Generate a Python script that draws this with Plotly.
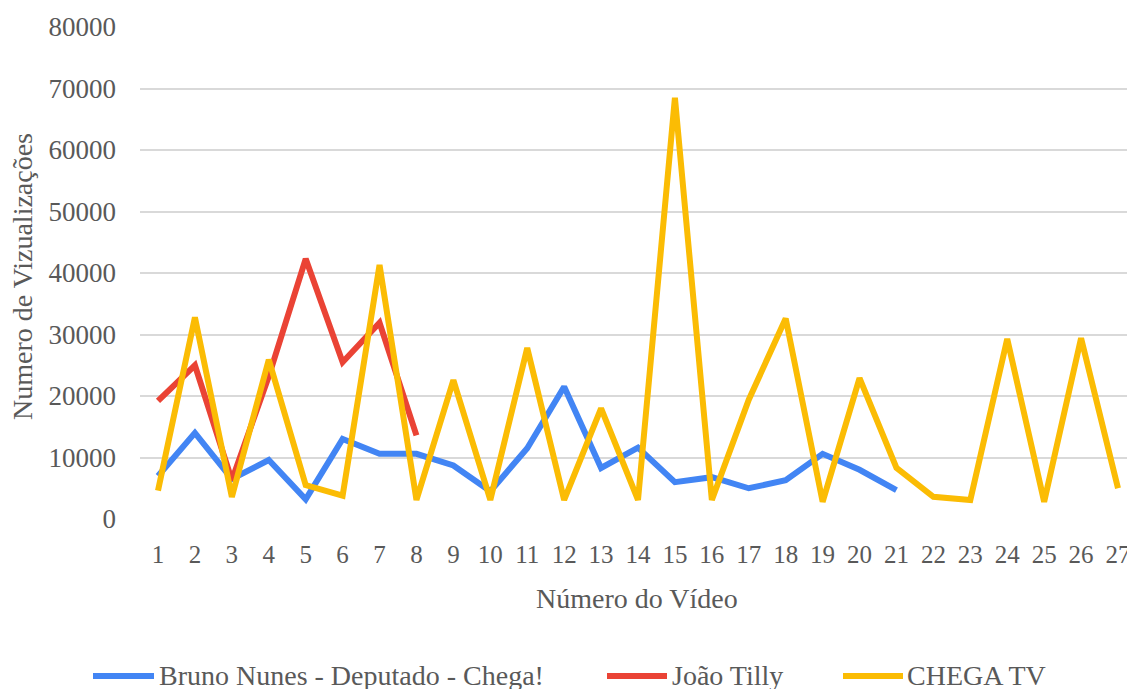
import plotly.graph_objects as go

videos = list(range(1, 28))
x_labels = [str(v) for v in videos]
y_ticks = list(range(0, 80001, 10000))
y_labels = [str(v) for v in y_ticks]

bruno_nunes = [7000, 14000, 6500, 9600, 3200, 13000, 10600, 10600, 8700, 4500,
               11500, 21500, 8300, 11600, 6000, 6800, 5000, 6300, 10600, 8000, 4700]
joao_tilly = [19200, 25000, 6300, 23200, 42300, 25500, 31900, 13600]
chega_tv = [4600, 32800, 3600, 25900, 5500, 3800, 41300, 3100, 22600, 3100,
            27800, 3100, 18000, 3100, 68500, 3100, 19400, 32600, 2800, 22900,
            8300, 3600, 3100, 29300, 2800, 29400, 5000]

series = [
    ("Bruno Nunes - Deputado - Chega!", bruno_nunes, "#4285F4"),
    ("João Tilly", joao_tilly, "#EA4335"),
    ("CHEGA TV", chega_tv, "#FBBC04"),
]

W, H = 1127, 689
L, R, T, B = 140, 0, 27, 170
PW, PH = W - L - R, H - T - B
FONT = "Liberation Serif, Times New Roman, serif"
GRAY = "#595959"

fig = go.Figure()
for name, vals, color in series:
    fig.add_trace(go.Scatter(
        x=videos[:len(vals)], y=vals, mode="lines", name=name,
        line=dict(color=color, width=6), showlegend=False,
    ))

slope = (1118 - 158) / 26.0
x0 = 1 - (158 - L) / slope
x1 = x0 + PW / slope

fig.update_xaxes(
    range=[x0, x1], tickmode="array", tickvals=videos, ticktext=x_labels,
    showgrid=False, zeroline=False, showline=False, ticklabeloverflow="allow",
    tickfont=dict(family=FONT, size=25, color=GRAY), ticklabelstandoff=18,
)
fig.update_yaxes(
    range=[0, 80000], tickmode="array", tickvals=y_ticks, ticktext=y_labels,
    showgrid=True, gridcolor="#d9d9d9", gridwidth=2, zeroline=False, showline=False,
    tickfont=dict(family=FONT, size=27, color=GRAY), ticklabelstandoff=23,
)

def px_x(p):
    return (p - L) / PW

def px_y(p):
    return (H - B - p) / PH

anns = [
    dict(text="Número do Vídeo", x=px_x(637), y=px_y(598), xref="paper", yref="paper",
         xanchor="center", yanchor="middle",
         showarrow=False, font=dict(family=FONT, size=28, color=GRAY)),
    dict(text="Numero de Vizualizações", x=px_x(22), y=px_y(277), xref="paper", yref="paper",
         xanchor="center", yanchor="middle",
         showarrow=False, textangle=-90, font=dict(family=FONT, size=28, color=GRAY)),
]
shapes = []
legend_items = [(90, 157, 157), (604, 670, 670), (840, 906, 905)]
for (lx0, lx1, tx), (name, _, color) in zip(legend_items, series):
    shapes.append(dict(type="line", xref="paper", yref="paper",
                       x0=px_x(lx0 + 3), x1=px_x(lx1 - 3), y0=px_y(676), y1=px_y(676),
                       line=dict(color=color, width=6)))
    anns.append(dict(text=name, x=px_x(tx), y=px_y(675), xref="paper", yref="paper",
                     xanchor="left", yanchor="middle", showarrow=False,
                     font=dict(family=FONT, size=28, color=GRAY)))

fig.update_layout(
    width=W, height=H, margin=dict(l=L, r=R, t=T, b=B, autoexpand=False),
    paper_bgcolor="white", plot_bgcolor="white",
    annotations=anns, shapes=shapes,
)
fig.write_html("out.html", config={"displayModeBar": False},
               post_script="document.body.style.margin='0';")
